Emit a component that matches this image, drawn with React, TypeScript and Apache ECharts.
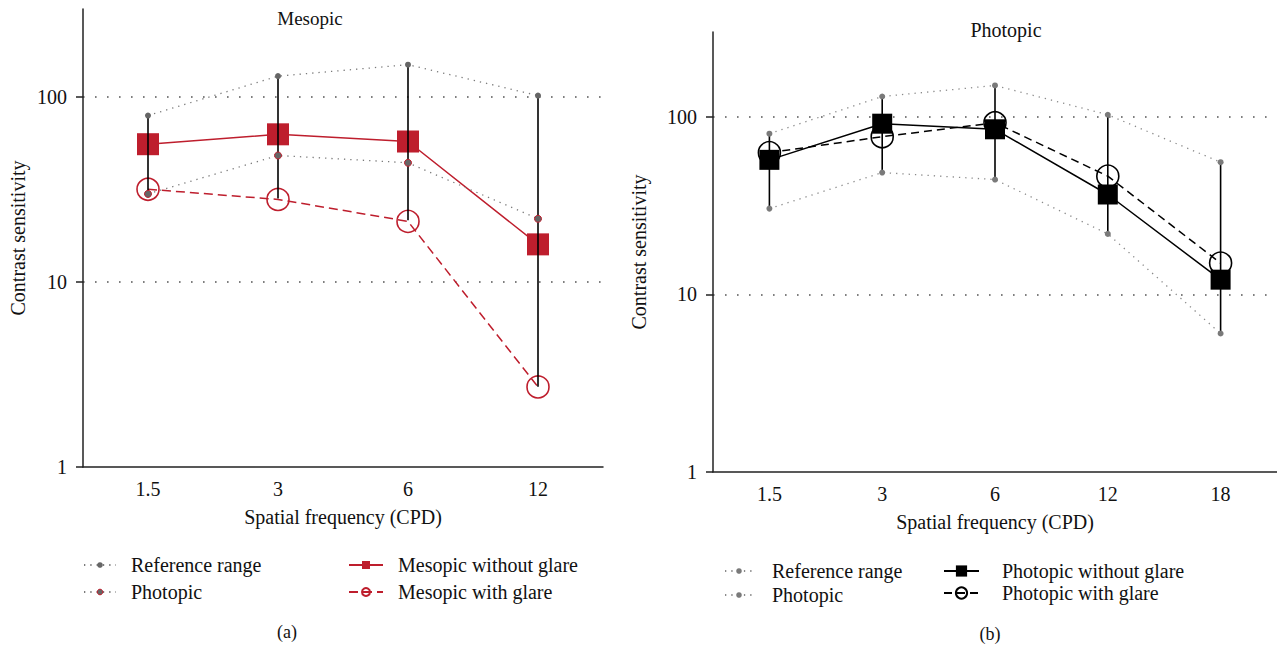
import React, { useEffect, useRef } from "react";
import * as echarts from "echarts";

// ---- Panel (a): Mesopic ----
const catsA = ["1.5", "3", "6", "12"];
const refUpperA = [79.6, 130, 150, 102];
const photopicA = [30, 48.4, 44.2, 22];
const mesopicNoGlare = [55.7, 63, 57.6, 16];
const mesopicGlare = [31.8, 28, 21.3, 2.71];
const errLowA = [30, 28.3, 21.6, 2.72];
const errHighA = [79.6, 130, 150, 102];

// ---- Panel (b): Photopic ----
const catsB = ["1.5", "3", "6", "12", "18"];
const refUpperB = [80.3, 130, 150, 102.6, 55.5];
const refLowerB = [30.4, 48.5, 44.3, 21.9, 6.02];
const photopicNoGlare = [57.2, 91.4, 85, 36.5, 12.1];
const photopicGlare = [62.8, 77.2, 92.5, 46.3, 15.0];
const errLowB = [30.4, 48.5, 44.3, 21.9, 6.02];
const errHighB = [80.3, 130, 150, 102.6, 55.5];

const yTickValues = [1, 10, 100];
const yMin = 1;
const yMax = 300;

const FONT = "Liberation Serif";
const RED = "#be1e2d";
const GRAY = "#7a7a7a";

function errorBars(xi: number, low: number[], high: number[]) {
  return {
    type: "custom",
    xAxisIndex: xi,
    yAxisIndex: xi,
    z: 4,
    silent: true,
    renderItem: (_p: any, api: any) => {
      const x = api.value(0);
      const a = api.coord([x, api.value(1)]);
      const b = api.coord([x, api.value(2)]);
      return {
        type: "line",
        shape: { x1: a[0], y1: a[1], x2: b[0], y2: b[1] },
        style: { stroke: "#000", lineWidth: 1.6 },
      };
    },
    encode: { x: 0, y: [1, 2] },
    data: low.map((l, i) => [i, l, high[i]]),
  };
}

function yAxis(gridIndex: number, nameGap: number) {
  return {
    type: "log",
    gridIndex,
    logBase: 10,
    min: yMin,
    max: yMax,
    name: "Contrast sensitivity",
    nameLocation: "middle",
    nameGap,
    nameTextStyle: { fontFamily: FONT, fontSize: 20, color: "#111" },
    axisLine: { show: true, lineStyle: { color: "#222", width: 1.5 } },
    axisTick: { show: true, length: 7, customValues: yTickValues, lineStyle: { color: "#222", width: 1.5 } },
    axisLabel: {
      customValues: yTickValues,
      margin: 16,
      fontFamily: FONT,
      fontSize: 20,
      color: "#111",
      formatter: (v: number) => {
        const r = Math.round(v);
        return yTickValues.includes(r) ? String(r) : "";
      },
    },
    splitLine: {
      show: true,
      showMinLine: false,
      showMaxLine: true,
      lineStyle: { color: "#555", width: 1.6, type: [1.6, 10.4] },
    },
  };
}

function xAxis(gridIndex: number, cats: string[], nameGap: number) {
  return {
    type: "category",
    gridIndex,
    data: cats,
    boundaryGap: true,
    name: "Spatial frequency (CPD)",
    nameLocation: "middle",
    nameGap,
    nameTextStyle: { fontFamily: FONT, fontSize: 20, color: "#111" },
    axisLine: { show: true, lineStyle: { color: "#222", width: 1.5 } },
    axisTick: { show: false },
    axisLabel: { fontFamily: FONT, fontSize: 20, color: "#111", margin: 12 },
    splitLine: { show: false },
  };
}

const stripName = (n: string) => n.replace("#b", "");

function legend(names: any[], left: number, top: number, itemWidth: number, itemHeight: number, itemGap: number, textPad: number) {
  return {
    data: names,
    left,
    top,
    orient: "vertical",
    padding: 0,
    itemWidth,
    itemHeight,
    itemGap,
    selectedMode: false,
    formatter: stripName,
    textStyle: { fontFamily: FONT, fontSize: 20, color: "#111", padding: [0, 0, 0, textPad] },
  };
}

export default function App() {
  const ref = useRef<HTMLDivElement>(null);
  useEffect(() => {
    if (!ref.current) return;
    const chart = echarts.init(ref.current, undefined, { renderer: "svg" });
    const option: any = {
      animation: false,
      backgroundColor: "#fff",
      textStyle: { fontFamily: FONT },
      grid: [
        { left: 83, top: 9, width: 520, height: 458, containLabel: false },
        { left: 713, top: 32, width: 564, height: 440, containLabel: false },
      ],
      xAxis: [xAxis(0, catsA, 40), xAxis(1, catsB, 40)],
      yAxis: [yAxis(0, 55), yAxis(1, 64)],
      legend: [
        legend(
          [
            { name: "Reference range" },
            { name: "Photopic", itemStyle: { color: "#666", borderColor: RED, borderWidth: 1 } },
          ],
          83, 555, 32, 7, 7, 10
        ),
        legend(["Mesopic without glare", "Mesopic with glare"], 348, 555, 34, 10, 7, 10),
        legend(["Reference range#b", "Photopic#b"], 724, 561, 28, 7, 4, 14),
        legend(["Photopic without glare#b", "Photopic with glare#b"], 943, 561, 35, 14, 2, 18),
      ],
      graphic: [
        { type: "text", x: 310, y: 18, style: { text: "Mesopic", font: `19px '${FONT}'`, fill: "#111", textAlign: "center", textVerticalAlign: "middle" } },
        { type: "text", x: 1006, y: 30, style: { text: "Photopic", font: `20px '${FONT}'`, fill: "#111", textAlign: "center", textVerticalAlign: "middle" } },
        { type: "text", x: 287, y: 632, style: { text: "(a)", font: `18px '${FONT}'`, fill: "#111", textAlign: "center", textVerticalAlign: "middle" } },
        { type: "text", x: 990, y: 634, style: { text: "(b)", font: `18px '${FONT}'`, fill: "#111", textAlign: "center", textVerticalAlign: "middle" } },
      ],
      series: [
        // Panel (a)
        {
          name: "Mesopic without glare",
          type: "line",
          xAxisIndex: 0,
          yAxisIndex: 0,
          z: 2,
          data: mesopicNoGlare,
          symbol: "rect",
          symbolSize: 22,
          lineStyle: { color: RED, width: 1.5, type: "solid" },
          itemStyle: { color: RED },
        },
        {
          name: "Mesopic with glare",
          type: "line",
          xAxisIndex: 0,
          yAxisIndex: 0,
          z: 2,
          data: mesopicGlare,
          symbol: "circle",
          symbolSize: 22,
          lineStyle: { color: RED, width: 1.5, type: [9, 5] },
          itemStyle: { color: "rgba(255,255,255,0)", borderColor: RED, borderWidth: 1.6 },
        },
        errorBars(0, errLowA, errHighA),
        {
          name: "Reference range",
          type: "line",
          xAxisIndex: 0,
          yAxisIndex: 0,
          z: 5,
          data: refUpperA,
          symbol: "circle",
          symbolSize: 6,
          lineStyle: { color: GRAY, width: 1.3, type: [1.3, 5] },
          itemStyle: { color: "#666" },
        },
        {
          name: "Photopic",
          type: "line",
          xAxisIndex: 0,
          yAxisIndex: 0,
          z: 5,
          data: photopicA,
          symbol: "circle",
          symbolSize: 7,
          lineStyle: { color: GRAY, width: 1.3, type: [1.3, 5] },
          itemStyle: { color: "#666", borderColor: RED, borderWidth: 1 },
        },
        // Panel (b)
        {
          name: "Photopic without glare#b",
          type: "line",
          xAxisIndex: 1,
          yAxisIndex: 1,
          z: 2,
          data: photopicNoGlare,
          symbol: "rect",
          symbolSize: 20,
          lineStyle: { color: "#000", width: 1.5, type: "solid" },
          itemStyle: { color: "#000" },
        },
        {
          name: "Photopic with glare#b",
          type: "line",
          xAxisIndex: 1,
          yAxisIndex: 1,
          z: 2,
          data: photopicGlare,
          symbol: "circle",
          symbolSize: 22,
          lineStyle: { color: "#000", width: 1.5, type: [8, 5] },
          itemStyle: { color: "rgba(255,255,255,0)", borderColor: "#000", borderWidth: 1.6 },
        },
        errorBars(1, errLowB, errHighB),
        {
          name: "Reference range#b",
          type: "line",
          xAxisIndex: 1,
          yAxisIndex: 1,
          z: 5,
          data: refUpperB,
          symbol: "circle",
          symbolSize: 6,
          lineStyle: { color: "#8a8a8a", width: 1.3, type: [1.3, 5] },
          itemStyle: { color: GRAY },
        },
        {
          name: "Photopic#b",
          type: "line",
          xAxisIndex: 1,
          yAxisIndex: 1,
          z: 5,
          data: refLowerB,
          symbol: "circle",
          symbolSize: 6,
          lineStyle: { color: "#8a8a8a", width: 1.3, type: [1.3, 5] },
          itemStyle: { color: GRAY },
        },
      ],
    };
    chart.setOption(option);
    return () => chart.dispose();
  }, []);
  return <div ref={ref} style={{ position: "fixed", left: 0, top: 0, width: 1277, height: 646 }} />;
}
